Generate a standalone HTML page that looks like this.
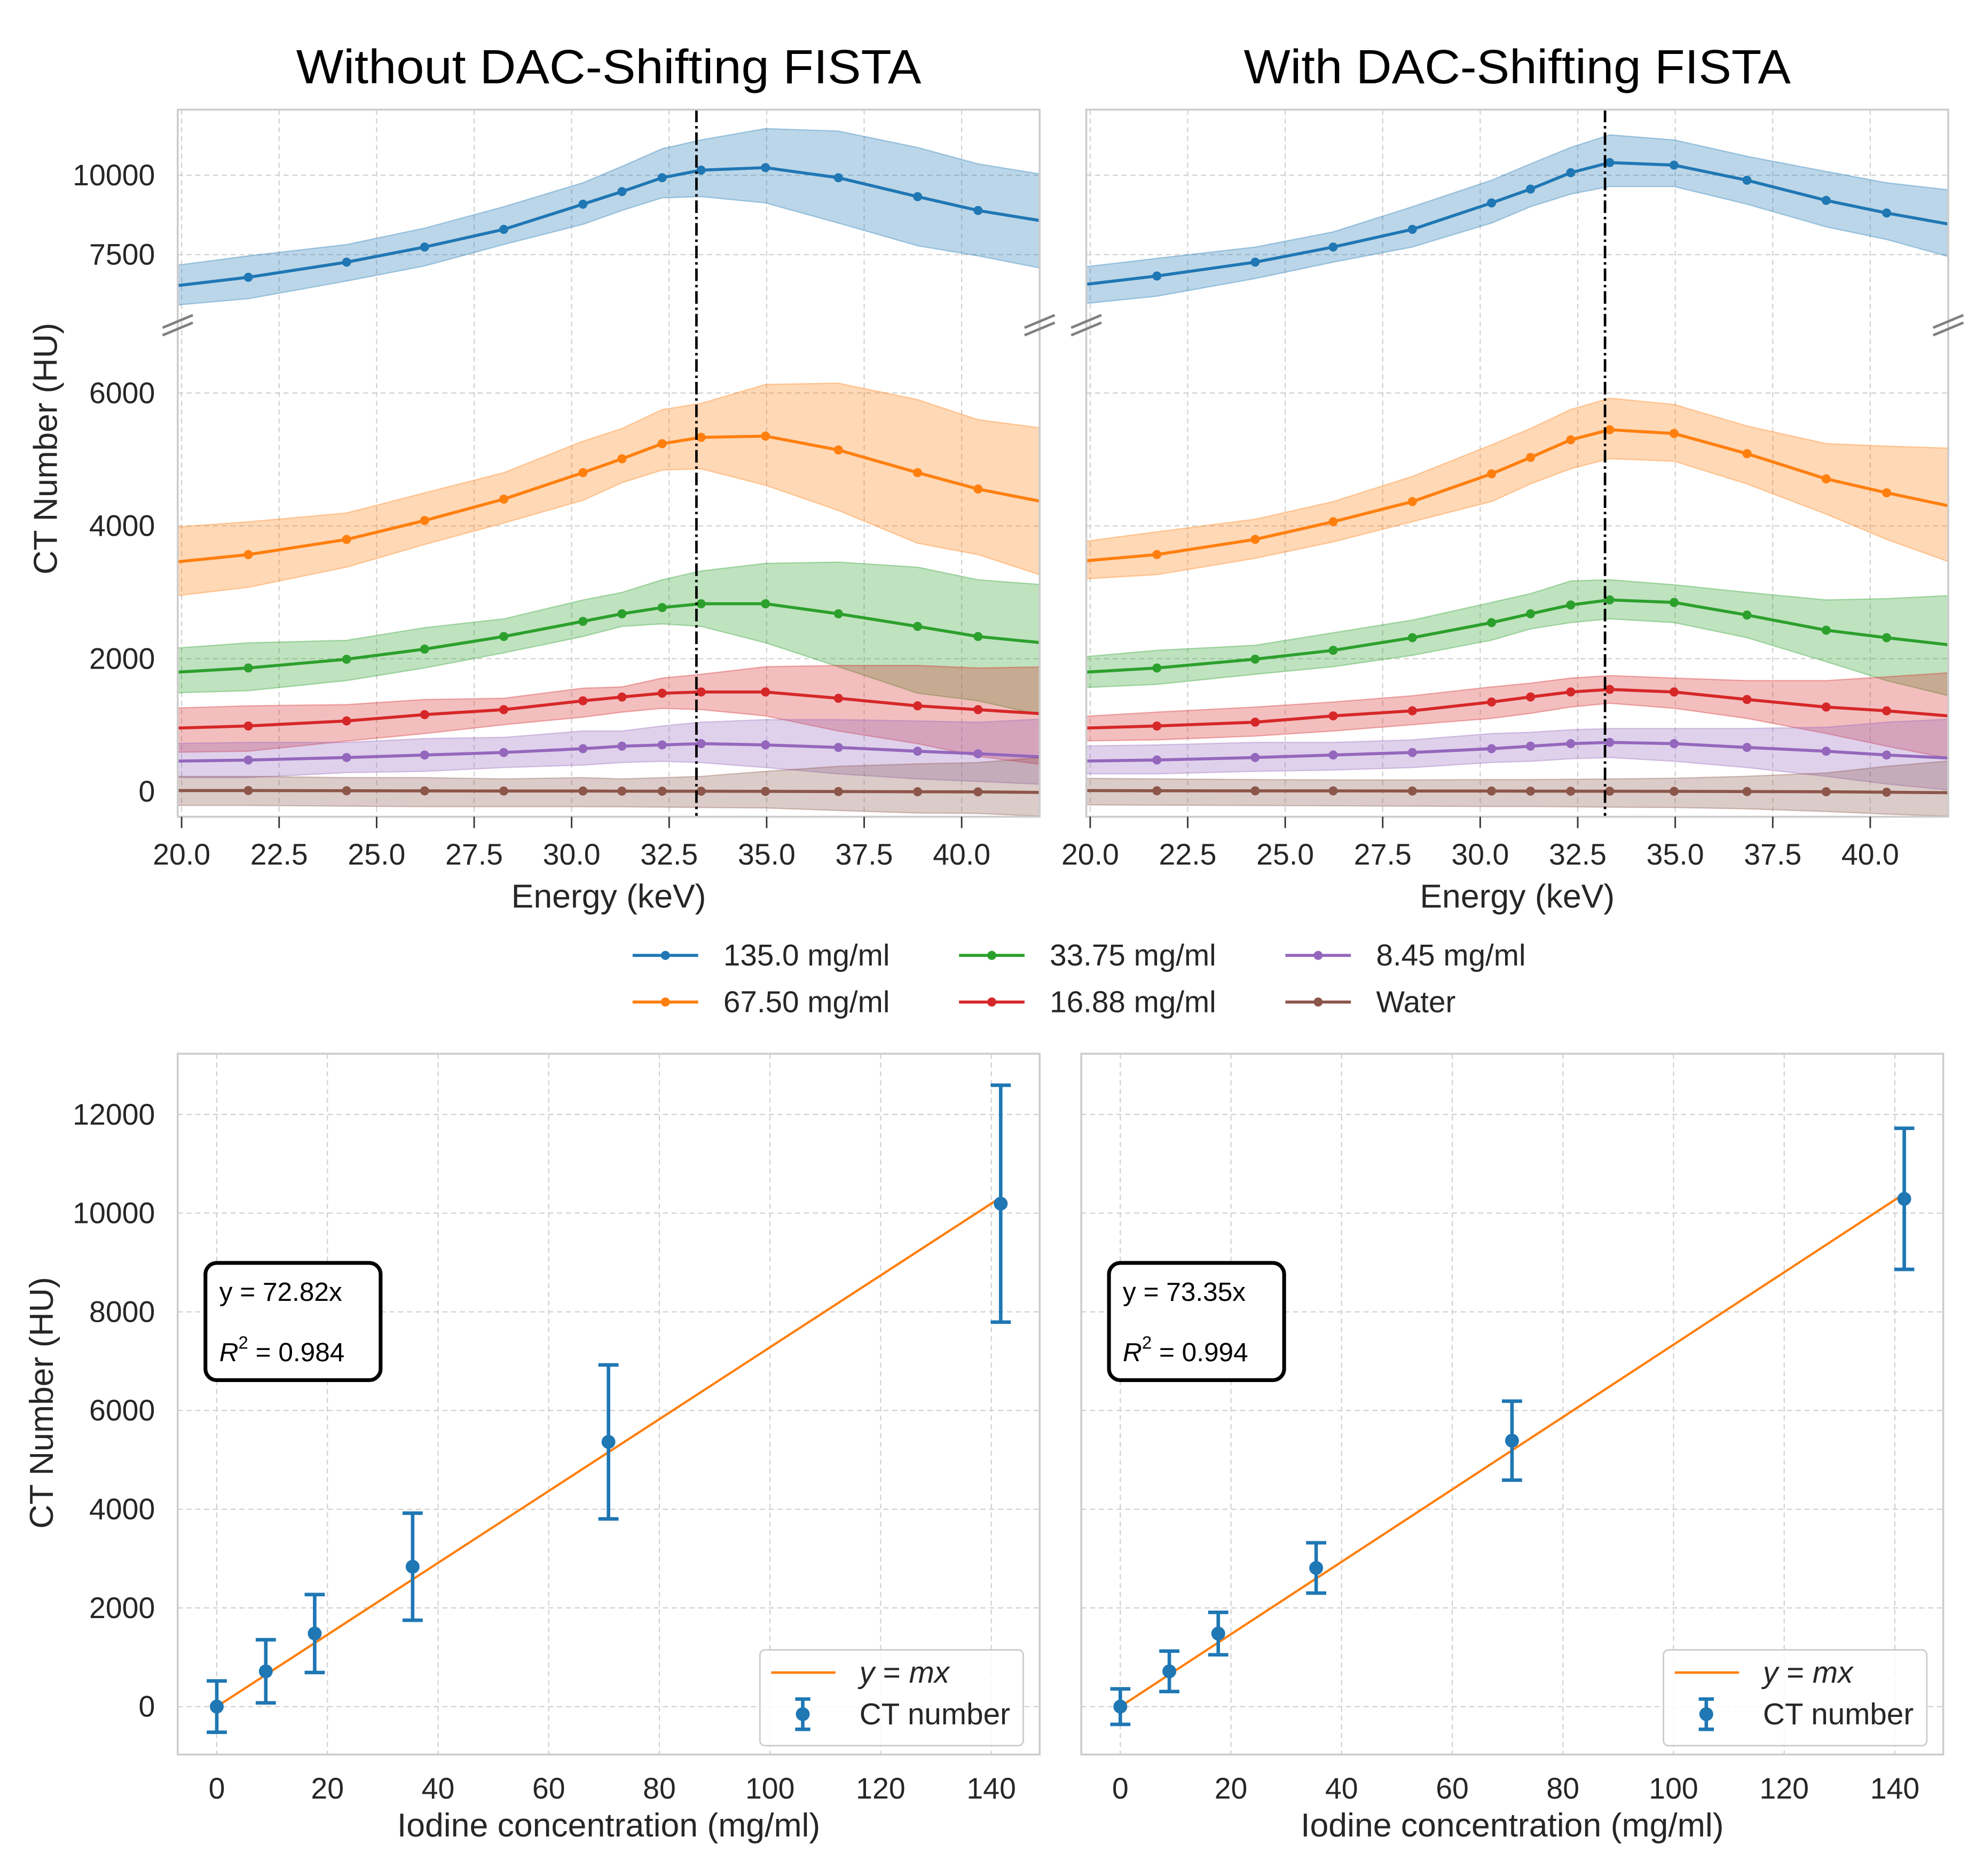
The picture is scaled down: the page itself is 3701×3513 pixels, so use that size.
<!DOCTYPE html>
<html><head><meta charset="utf-8"><style>
html,body{margin:0;padding:0;background:#fff;}
svg{display:block;font-family:"Liberation Sans",Arial,sans-serif;}
</style></head><body>
<svg id="fig" xmlns="http://www.w3.org/2000/svg" width="3701" height="3513" viewBox="0 0 1568 1488.4">
<rect width="1568" height="1488.4" fill="#fff"/>
<defs>
<clipPath id="cU"><rect x="0" y="87" width="684" height="169"/></clipPath>
<clipPath id="cL"><rect x="0" y="258" width="684" height="390"/></clipPath>
<clipPath id="cB"><rect x="0" y="836" width="684" height="556"/></clipPath>
</defs>
<g id="root"></g>
</svg>
<script>
// ---------- Top charts data ----------
const energies = [19.5, 21.71, 24.23, 26.23, 28.26, 30.29, 31.29, 32.32, 33.32, 34.97, 36.84, 38.87, 40.42, 42.4];
const seriesNames = ["135.0 mg/ml","67.50 mg/ml","33.75 mg/ml","16.88 mg/ml","8.45 mg/ml","Water"];
const seriesColors = ["#1f77b4","#ff7f0e","#2ca02c","#d62728","#9467bd","#8c564b"];
const kEdgeEnergy = 33.2;
const upperTicks = [7500, 10000];
const lowerTicks = [0, 2000, 4000, 6000];
const energyTicks = [20.0, 22.5, 25.0, 27.5, 30.0, 32.5, 35.0, 37.5, 40.0];

// Without DAC-shifting
const L135 = [6468,6786,7262,7738,8294,9087,9484,9920,10159,10238,9920,9325,8889,8492];
const L135hi = [7103,7460,7817,8333,9008,9762,10278,10833,11111,11468,11389,10873,10357,9960];
const L135lo = [5873,6111,6667,7143,7817,8452,8889,9286,9325,9127,8492,7778,7460,6984];
const L67 = [3435,3567,3795,4080,4402,4801,5009,5237,5332,5351,5142,4801,4554,4326];
const L67hi = [3966,4061,4194,4497,4801,5275,5465,5750,5844,6129,6148,5901,5598,5446];
const L67lo = [2922,3074,3378,3719,4042,4383,4649,4839,4858,4611,4231,3738,3567,3188];
const L33 = [1784,1860,1992,2144,2334,2562,2676,2770,2827,2827,2676,2486,2334,2220];
const L33hi = [2144,2239,2277,2467,2600,2884,2998,3188,3321,3435,3454,3378,3188,3100];
const L33lo = [1480,1518,1670,1860,2087,2334,2486,2524,2486,2239,1879,1480,1366,1101];
const L16 = [949,987,1063,1158,1233,1366,1423,1480,1499,1499,1404,1290,1233,1158];
const L16hi = [1252,1290,1309,1385,1404,1556,1575,1708,1765,1879,1898,1898,1860,1879];
const L16lo = [588,607,759,873,1006,1120,1195,1252,1233,1139,911,721,531,380];
const L8 = [455,474,512,550,588,645,683,702,721,702,664,607,569,512];
const L8hi = [721,740,740,797,816,911,911,987,1044,1082,1082,1063,1044,1101];
const L8lo = [209,209,285,304,361,398,436,455,436,361,266,190,152,100];
const LW = [15,15,12,10,8,8,6,5,5,3,0,-3,-5,-15];
const LWhi = [228,228,209,209,190,209,190,209,228,304,380,417,436,531];
const LWlo = [-209,-209,-220,-228,-228,-228,-230,-235,-240,-247,-285,-323,-330,-380];

// With DAC-shifting
const R135 = [6508,6826,7262,7738,8294,9127,9563,10079,10397,10317,9841,9206,8810,8373];
const R135hi = [7063,7381,7738,8214,9008,9841,10357,10873,11270,11111,10595,10119,9762,9484];
const R135lo = [5913,6190,6746,7262,7738,8492,9008,9405,9643,9643,9087,8373,7976,7302];
const R67 = [3454,3568,3796,4062,4365,4783,5030,5295,5447,5390,5087,4707,4498,4252];
const R67hi = [3739,3910,4100,4365,4745,5220,5466,5751,5922,5827,5504,5238,5200,5163];
const R67lo = [3189,3265,3511,3758,4062,4365,4631,4859,5011,4973,4631,4176,3796,3378];
const R33 = [1784,1860,1993,2126,2316,2543,2676,2809,2885,2847,2657,2429,2316,2183];
const R33hi = [2012,2126,2202,2391,2581,2847,2980,3170,3189,3113,2999,2885,2904,2961];
const R33lo = [1556,1613,1765,1879,2050,2278,2448,2543,2600,2543,2316,1955,1670,1386];
const R16 = [949,987,1044,1139,1215,1348,1424,1499,1537,1499,1386,1272,1215,1120];
const R16hi = [1120,1196,1272,1348,1442,1575,1632,1708,1746,1708,1670,1670,1727,1803];
const R16lo = [759,778,835,911,1006,1101,1177,1272,1329,1253,1101,873,683,456];
const R8 = [456,475,512,550,588,645,683,721,740,721,664,607,550,493];
const R8hi = [683,702,740,740,778,873,892,930,949,949,949,968,1044,1101];
const R8lo = [266,266,304,323,361,437,456,493,512,456,361,228,114,0];
const RW = [15,12,10,10,8,8,6,5,5,3,0,-3,-10,-20];
const RWhi = [200,190,180,175,175,180,180,185,190,200,230,280,380,480];
const RWlo = [-200,-205,-210,-215,-220,-225,-225,-230,-235,-240,-260,-300,-340,-380];

// ---------- Bottom charts data ----------
const concentrations = [0, 8.86, 17.7, 35.4, 70.8, 141.7];
const leftCT = [0, 715, 1481, 2835, 5364, 10192];
const leftErr = [520, 640, 790, 1085, 1560, 2400];
const leftSlope = 72.82;
const rightCT = [0, 715, 1480, 2810, 5390, 10290];
const rightErr = [360, 410, 430, 510, 800, 1430];
const rightSlope = 73.35;
const ctTicks = [0, 2000, 4000, 6000, 8000, 10000, 12000];
const concTicks = [0, 20, 40, 60, 80, 100, 120, 140];

const NS = "http://www.w3.org/2000/svg";
const root = document.getElementById("root");
function mk(tag, attrs, parent){ const e=document.createElementNS(NS,tag); for(const k in attrs) e.setAttribute(k,attrs[k]); (parent||root).appendChild(e); return e; }
function txt(s, attrs, parent){ const e=mk("text",attrs,parent); e.textContent=s; return e; }

const TICK_FS = 23.5, TITLE_FS = 26.5, LEG_FS = 24;
const W = 684;
const xE = e => (e - 19.9) * (W / 22.1);
const yU = v => 139 - (v - 10000) * 0.0252;
const yL = v => 628 - v * 0.0527;

function topChart(ox, data, showY, title, nm){
  const g = mk("g", {transform:`translate(${ox},0)`});
  
  
  energyTicks.forEach(t=>{ const l=mk("line",{x1:xE(t),x2:xE(t),y1:87,y2:648,stroke:"#cfcfcf","stroke-width":0.9,"stroke-dasharray":"4,3"},g);
      });
  upperTicks.forEach(t=>{ const l=mk("line",{x1:0,x2:W,y1:yU(t),y2:yU(t),stroke:"#cfcfcf","stroke-width":0.9,"stroke-dasharray":"4,3"},g);
      });
  lowerTicks.forEach(t=>{ const l=mk("line",{x1:0,x2:W,y1:yL(t),y2:yL(t),stroke:"#cfcfcf","stroke-width":0.9,"stroke-dasharray":"4,3"},g);
      });
  data.forEach((d,i)=>{
    const ys = i===0 ? yU : yL;
    const cg = mk("g",{"clip-path": i===0 ? "url(#cU)" : "url(#cL)"}, g);
    
    
    let p = energies.map((e,k)=>`${xE(e)},${ys(d.hi[k])}`).join(" ");
    p += " " + energies.map((e,k)=>`${xE(e)},${ys(d.lo[k])}`).reverse().join(" ");
    const band = mk("polygon",{points:p,fill:seriesColors[i],"fill-opacity":0.3,stroke:seriesColors[i],"stroke-opacity":0.35,"stroke-width":1},cg);
     
    const ln = mk("polyline",{points:energies.map((e,k)=>`${xE(e)},${ys(d.m[k])}`).join(" "),fill:"none",stroke:seriesColors[i],"stroke-width":2.4},cg);
     
    energies.forEach((e,k)=>{ const c=mk("circle",{cx:xE(e),cy:ys(d.m[k]),r:3.6,fill:seriesColors[i]},cg);
        });
  });
  const kl = mk("line",{x1:xE(kEdgeEnergy),x2:xE(kEdgeEnergy),y1:87,y2:648,stroke:"#000","stroke-width":2,"stroke-dasharray":"10,3,2,3"},g);
   
  const fr = mk("rect",{x:0,y:87,width:W,height:561,fill:"none",stroke:"#cccccc","stroke-width":1.5},g);
   
  [0,W].forEach(bx=>{ [-3,3].forEach(dy=>{ const b=mk("line",{x1:bx-12,y1:258+dy+5,x2:bx+12,y2:258+dy-5,stroke:"#808080","stroke-width":2},g);
      }); });
  energyTicks.forEach(t=>{
    const tk=mk("line",{x1:xE(t),x2:xE(t),y1:648,y2:657,stroke:"#333","stroke-width":1.2},g);
     
    const tl=txt(t.toFixed(1),{x:xE(t),y:686,"text-anchor":"middle","font-size":TICK_FS,fill:"#262626"},g);
     
  });
  if(showY){
    upperTicks.forEach(t=>{ const tl=txt(String(t),{x:-18,y:yU(t)+8,"text-anchor":"end","font-size":TICK_FS,fill:"#262626"},g);
        });
    lowerTicks.forEach(t=>{ const tl=txt(String(t),{x:-18,y:yL(t)+8,"text-anchor":"end","font-size":TICK_FS,fill:"#262626"},g);
        });
  }
  const xl=txt("Energy (keV)",{x:W/2,y:720,"text-anchor":"middle","font-size":TITLE_FS,fill:"#262626"},g);
   
  const tt=txt(title,{x:W/2,y:66,"text-anchor":"middle","font-size":38,fill:"#000",textLength:title.length>24?496:434,lengthAdjust:"spacingAndGlyphs"},g);
   
}

const leftData = [
 {m:L135,hi:L135hi,lo:L135lo},{m:L67,hi:L67hi,lo:L67lo},{m:L33,hi:L33hi,lo:L33lo},
 {m:L16,hi:L16hi,lo:L16lo},{m:L8,hi:L8hi,lo:L8lo},{m:LW,hi:LWhi,lo:LWlo}];
const rightData = [
 {m:R135,hi:R135hi,lo:R135lo},{m:R67,hi:R67hi,lo:R67lo},{m:R33,hi:R33hi,lo:R33lo},
 {m:R16,hi:R16hi,lo:R16lo},{m:R8,hi:R8hi,lo:R8lo},{m:RW,hi:RWhi,lo:RWlo}];
topChart(141, leftData, true, "Without DAC-Shifting FISTA", "energy-chart-without-dac");
topChart(862, rightData, false, "With DAC-Shifting FISTA", "energy-chart-with-dac");

const yl1 = txt("CT Number (HU)",{x:0,y:0,"text-anchor":"middle","font-size":TITLE_FS,fill:"#262626",transform:"translate(45,356) rotate(-90)"});
 

// central legend
const lg = mk("g",{});
 
const legX = [502, 761, 1020];
seriesNames.forEach((n,i)=>{
  const col = Math.floor(i/2), row = i%2;
  const lx = legX[col], ly = 758 + row*37;
  const e = mk("g",{},lg);
   
  mk("line",{x1:lx,x2:lx+52,y1:ly,y2:ly,stroke:seriesColors[i],"stroke-width":2.4},e);
  mk("circle",{cx:lx+26,cy:ly,r:3.6,fill:seriesColors[i]},e);
  txt(n,{x:lx+72,y:ly+8,"font-size":LEG_FS,fill:"#262626"},e);
});

// ---------- bottom charts ----------
const xC = c => (c + 7.06) * (W / 155.8);
const yC = v => 1354 - v * 0.03915;
function bottomChart(ox, ct, err, slope, showY, nm, r2){
  const g = mk("g",{transform:`translate(${ox},0)`});
  
  
  concTicks.forEach(t=>{ const l=mk("line",{x1:xC(t),x2:xC(t),y1:836,y2:1392,stroke:"#cfcfcf","stroke-width":0.9,"stroke-dasharray":"4,3"},g);
      });
  ctTicks.forEach(t=>{ const l=mk("line",{x1:0,x2:W,y1:yC(t),y2:yC(t),stroke:"#cfcfcf","stroke-width":0.9,"stroke-dasharray":"4,3"},g);
      });
  const cg = mk("g",{"clip-path":"url(#cB)"},g);
  const cmax = concentrations[concentrations.length-1];
  const fl = mk("line",{x1:xC(0),y1:yC(0),x2:xC(cmax),y2:yC(slope*cmax),stroke:"#ff7f0e","stroke-width":1.8},cg);
   
  concentrations.forEach((c,k)=>{
    const eg = mk("g",{},cg);
     
    const x=xC(c), y1=yC(ct[k]+err[k]), y2=yC(ct[k]-err[k]);
    mk("line",{x1:x,x2:x,y1:y1,y2:y2,stroke:"#1f77b4","stroke-width":2.8},eg);
    mk("line",{x1:x-8,x2:x+8,y1:y1,y2:y1,stroke:"#1f77b4","stroke-width":2.8},eg);
    mk("line",{x1:x-8,x2:x+8,y1:y2,y2:y2,stroke:"#1f77b4","stroke-width":2.8},eg);
    mk("circle",{cx:x,cy:yC(ct[k]),r:5.5,fill:"#1f77b4"},eg);
  });
  const fr = mk("rect",{x:0,y:836,width:W,height:556,fill:"none",stroke:"#cccccc","stroke-width":1.5},g);
   
  concTicks.forEach(t=>{ const tl=txt(String(t),{x:xC(t),y:1427,"text-anchor":"middle","font-size":TICK_FS,fill:"#262626"},g);
      });
  if(showY){ ctTicks.forEach(t=>{ const tl=txt(String(t),{x:-18,y:yC(t)+8,"text-anchor":"end","font-size":TICK_FS,fill:"#262626"},g);
      }); }
  const xl=txt("Iodine concentration (mg/ml)",{x:W/2,y:1457,"text-anchor":"middle","font-size":TITLE_FS,fill:"#262626"},g);
   
  const ab = mk("g",{},g);
   
  mk("rect",{x:22,y:1002,width:139,height:93,rx:9,fill:"#fff",stroke:"#000","stroke-width":3},ab);
  txt("y = "+slope.toFixed(2)+"x",{x:33,y:1032,"font-size":21,fill:"#000"},ab);
  const r = txt("",{x:33,y:1080,"font-size":21,fill:"#000"},ab);
  r.innerHTML = '<tspan font-style="italic">R</tspan><tspan font-size="14" dy="-10">2</tspan><tspan dy="10"> = '+r2+'</tspan>';
  const lg = mk("g",{},g);
   
  mk("rect",{x:462,y:1309,width:209,height:76,rx:4,fill:"#fff","fill-opacity":0.85,stroke:"#cccccc","stroke-width":1.2},lg);
  mk("line",{x1:471,x2:522,y1:1327,y2:1327,stroke:"#ff7f0e","stroke-width":2},lg);
  const t1=txt("",{x:541,y:1335,"font-size":LEG_FS,fill:"#262626"},lg);
  t1.innerHTML='<tspan font-style="italic">y</tspan> = <tspan font-style="italic">mx</tspan>';
  mk("line",{x1:496,x2:496,y1:1348,y2:1372,stroke:"#1f77b4","stroke-width":2.8},lg);
  mk("line",{x1:490,x2:502,y1:1348,y2:1348,stroke:"#1f77b4","stroke-width":2.8},lg);
  mk("line",{x1:490,x2:502,y1:1372,y2:1372,stroke:"#1f77b4","stroke-width":2.8},lg);
  mk("circle",{cx:496,cy:1360,r:5.5,fill:"#1f77b4"},lg);
  txt("CT number",{x:541,y:1368,"font-size":LEG_FS,fill:"#262626"},lg);
}
bottomChart(141, leftCT, leftErr, leftSlope, true, "calibration-chart-without-dac", "0.984");
bottomChart(858, rightCT, rightErr, rightSlope, false, "calibration-chart-with-dac", "0.994");
const yl2 = txt("CT Number (HU)",{x:0,y:0,"text-anchor":"middle","font-size":TITLE_FS,fill:"#262626",transform:"translate(42,1113) rotate(-90)"});
 
</script>
</body></html>
